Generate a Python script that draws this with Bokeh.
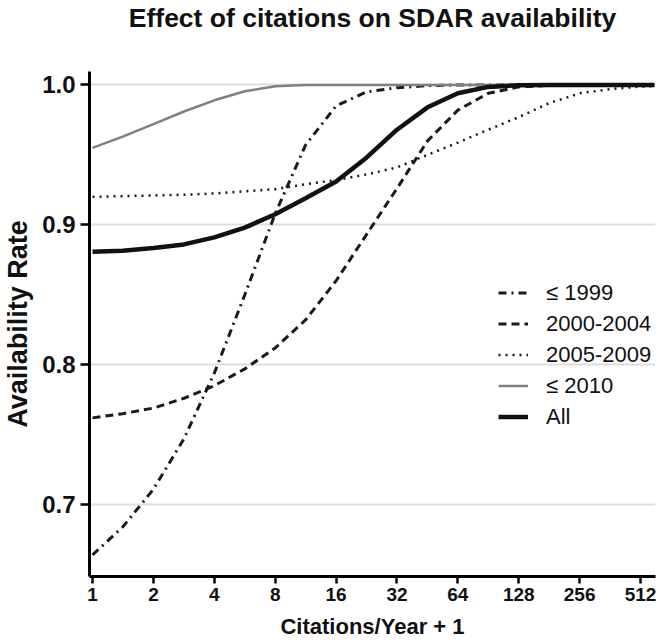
from bokeh.plotting import figure
from bokeh.models import (FixedTicker, NumeralTickFormatter, Legend, LegendItem,
                          Range1d, Title)
from bokeh.embed import file_html
from bokeh.resources import INLINE

# ---- data ----
citations = [1, 1.41, 2, 2.83, 4, 5.66, 8, 11.3, 16, 22.6, 32, 45.3, 64, 90.5,
             128, 181, 256, 362, 512, 600]
y_le1999 = [0.664, 0.684, 0.711, 0.747, 0.794, 0.850, 0.908, 0.957, 0.985, 0.995,
            0.998, 0.9995, 1.0, 1.0, 1.0, 1.0, 1.0, 1.0, 1.0, 1.0]
y_2000_2004 = [0.762, 0.765, 0.769, 0.776, 0.785, 0.797, 0.812, 0.832, 0.860, 0.893,
               0.926, 0.960, 0.982, 0.994, 0.9986, 0.9997, 1.0, 1.0, 1.0, 1.0]
y_2005_2009 = [0.920, 0.9205, 0.921, 0.9215, 0.9224, 0.924, 0.9255, 0.929, 0.932, 0.936,
               0.941, 0.950, 0.9588, 0.968, 0.977, 0.987, 0.994, 0.997, 0.9988, 0.9992]
y_le2010 = [0.955, 0.963, 0.972, 0.981, 0.989, 0.9955, 0.999, 1.0, 1.0, 1.0,
            1.0, 1.0, 1.0, 1.0, 1.0, 1.0, 1.0, 1.0, 1.0, 1.0]
y_all = [0.8807, 0.8815, 0.8834, 0.886, 0.891, 0.898, 0.9076, 0.919, 0.931, 0.948,
         0.968, 0.984, 0.994, 0.9986, 0.9998, 1.0, 1.0, 1.0, 1.0, 1.0]
x_ticks = [1, 2, 4, 8, 16, 32, 64, 128, 256, 512]
y_ticks = [0.7, 0.8, 0.9, 1.0]
labels = ["\u2264 1999", "2000-2004", "2005-2009", "\u2264 2010", "All"]
title_text = "Effect of citations on SDAR availability"

FONT = "Liberation Sans"

p = figure(width=660, height=643, x_axis_type="log", title=None,
           x_range=Range1d(0.966, 607), y_range=Range1d(0.6486, 1.0096),
           output_backend="svg", toolbar_location=None,
           min_border_left=88, min_border_right=5, min_border_top=70,
           min_border_bottom=67)
p.outline_line_color = None
p.background_fill_color = "white"

# spacer (closest to frame) then the real title
main_title = Title(text=title_text, align="center", offset=-4, text_font=FONT,
                   text_font_size="26.5px", text_font_style="bold",
                   text_color="#111111", standoff=0)
if "text_line_height" in main_title.properties():
    main_title.text_line_height = 0.95
    spacer_size = "33px"
else:
    main_title.standoff = 10
    spacer_size = "23.5px"
p.add_layout(Title(text=" ", text_font_size=spacer_size, standoff=0), "above")
p.add_layout(main_title, "above")

# axes
for ax in (p.xaxis[0], p.yaxis[0]):
    ax.axis_line_width = 3
    ax.axis_line_color = "black"
    ax.major_tick_line_width = 2.5
    ax.major_tick_line_color = "black"
    ax.major_tick_in = 0
    ax.minor_tick_line_color = None
    ax.major_label_text_font = FONT
    ax.major_label_text_font_style = "bold"
    ax.major_label_text_color = "#111111"
    ax.axis_label_text_font = FONT
    ax.axis_label_text_font_style = "bold"
    ax.axis_label_text_color = "#111111"

p.xaxis.ticker = FixedTicker(ticks=x_ticks)
p.xaxis.formatter = NumeralTickFormatter(format="0")
p.xaxis.major_tick_out = 7
p.xaxis.major_label_text_font_size = "19px"
p.xaxis.axis_label = "Citations/Year + 1"
p.xaxis.axis_label_text_font_size = "22px"
p.xaxis.major_label_standoff = 4
p.xaxis.axis_label_standoff = 10

p.yaxis.ticker = FixedTicker(ticks=y_ticks)
p.yaxis.formatter = NumeralTickFormatter(format="0.0")
p.yaxis.major_tick_out = 9
p.yaxis.major_label_text_font_size = "24px"
p.yaxis.axis_label = "Availability Rate"
p.yaxis.axis_label_text_font_size = "27px"
p.yaxis.major_label_standoff = 5
p.yaxis.axis_label_standoff = 6

p.xgrid.grid_line_color = None
p.ygrid.grid_line_color = "#dedede"
p.ygrid.grid_line_width = 2
p.ygrid.ticker = FixedTicker(ticks=y_ticks)

r1 = p.line(citations, y_le1999, line_color="#1a1a1a", line_width=3,
            line_dash="8 5 2 5")
r2 = p.line(citations, y_2000_2004, line_color="#1a1a1a", line_width=3,
            line_dash="8 5")
r3 = p.line(citations, y_2005_2009, line_color="#1a1a1a", line_width=2.5,
            line_dash="2 5")
r4 = p.line(citations, y_le2010, line_color="#808080", line_width=2.5)
r5 = p.line(citations, y_all, line_color="#111111", line_width=4.5)

legend = Legend(items=[LegendItem(label=l, renderers=[r]) for l, r in
                       zip(labels, [r1, r2, r3, r4, r5])],
                location=(409, 145))
legend.background_fill_alpha = 0
legend.border_line_color = None
legend.padding = 0
legend.margin = 0
legend.spacing = 2
legend.glyph_width = 30
legend.glyph_height = 29
legend.label_height = 29
legend.label_standoff = 18
legend.label_text_font = FONT
legend.label_text_font_size = "22px"
legend.label_text_color = "#111111"
p.add_layout(legend, "center")

open("out.html", "w").write(file_html(p, INLINE))
